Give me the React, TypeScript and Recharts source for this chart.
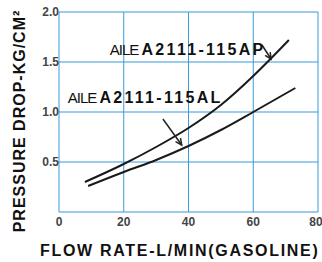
import { LineChart, Line, XAxis, YAxis, CartesianGrid, ReferenceLine, ReferenceDot } from 'recharts';

// flow rate (L/min) vs pressure drop (kg/cm2)
const flowAP = [8, 20, 30, 40, 50, 60, 65, 71];
const dropAP = [0.3, 0.48, 0.65, 0.84, 1.07, 1.36, 1.52, 1.72];
const flowAL = [9, 20, 30, 40, 50, 60, 73];
const dropAL = [0.26, 0.4, 0.52, 0.66, 0.82, 1.0, 1.24];

const xTicks = [0, 20, 40, 60, 80];
const yTicks = [0, 0.5, 1, 1.5, 2];

const apData = flowAP.map((flow, i) => ({ flow, drop: dropAP[i] }));
const alData = flowAL.map((flow, i) => ({ flow, drop: dropAL[i] }));

const FONT = '"Liberation Sans", Arial, sans-serif';
const GRID = '#3b9ad8';

const Arrow = (props: any) => {
  const { x1, y1, x2, y2 } = props;
  const a = Math.atan2(y2 - y1, x2 - x1);
  const len = 7;
  const w = 0.45;
  const p1 = [x2 - len * Math.cos(a - w), y2 - len * Math.sin(a - w)];
  const p2 = [x2 - len * Math.cos(a + w), y2 - len * Math.sin(a + w)];
  return (
    <g>
      <line x1={x1} y1={y1} x2={x2} y2={y2} stroke="#222" strokeWidth={1.5} />
      <polyline points={`${p1[0]},${p1[1]} ${x2},${y2} ${p2[0]},${p2[1]}`} fill="none" stroke="#222" strokeWidth={1.5} />
    </g>
  );
};

const partLabel = (code: string) => (props: any) => (
  <text x={props.cx} y={props.cy} fontFamily={FONT} fontSize={15} fill="#111">
    <tspan letterSpacing={-1}>AILE </tspan>
    <tspan fontWeight="bold" fontSize={16} letterSpacing={2.3}>{code}</tspan>
  </text>
);

export default function App() {
  return (
    <div style={{ position: 'fixed', left: 0, top: 0, background: '#fff' }}>
      <LineChart width={322} height={262} data={apData} margin={{ top: 12, right: 4, bottom: 0, left: 0 }}>
        <CartesianGrid stroke={GRID} strokeWidth={1} />
        <XAxis
          dataKey="flow"
          type="number"
          domain={[0, 80]}
          ticks={xTicks}
          axisLine={false}
          tickLine={false}
          tickSize={0}
          tickMargin={5}
          height={50}
          tick={{ fill: '#444', fontSize: 12, fontWeight: 'bold', fontFamily: FONT }}
          label={(p: any) => (
            <text x={40} y={256} fontFamily={FONT} fontSize={16} fontWeight="bold" letterSpacing={1.7} fill="#111">
              FLOW RATE-L/MIN(GASOLINE)
            </text>
          )}
        />
        <YAxis
          type="number"
          domain={[0, 2]}
          ticks={yTicks}
          axisLine={false}
          tickLine={false}
          tickSize={0}
          tickMargin={0}
          width={59}
          tickFormatter={(v: number) => (v === 0 ? '' : v.toFixed(1))}
          tick={{ fill: '#444', fontSize: 12, fontWeight: 'bold', fontFamily: FONT }}
          label={(p: any) => (
            <text
              x={25}
              y={121}
              transform="rotate(-90 25 121)"
              textAnchor="middle"
              fontFamily={FONT}
              fontSize={16}
              fontWeight="bold"
              letterSpacing={1}
              fill="#111"
            >
              PRESSURE DROP-KG/CM²
            </text>
          )}
        />
        <Line data={apData} dataKey="drop" type="monotone" stroke="#1a1a1a" strokeWidth={2} dot={false} isAnimationActive={false} />
        <Line data={alData} dataKey="drop" type="monotone" stroke="#1a1a1a" strokeWidth={2} dot={false} isAnimationActive={false} />
        <ReferenceLine segment={[{ x: 62.7, y: 1.67 }, { x: 65.5, y: 1.53 }]} shape={Arrow} />
        <ReferenceLine segment={[{ x: 32.1, y: 0.93 }, { x: 37.9, y: 0.67 }]} shape={Arrow} />
        <ReferenceDot x={15.7} y={1.57} r={0} shape={partLabel('A2111-115AP')} />
        <ReferenceDot x={2.7} y={1.09} r={0} shape={partLabel('A2111-115AL')} />
      </LineChart>
    </div>
  );
}
